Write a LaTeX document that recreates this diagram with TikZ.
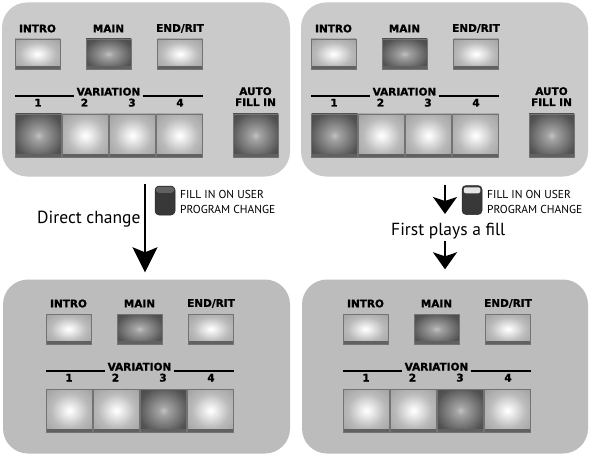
\documentclass[tikz,border=0pt]{standalone}
\usepackage{fontspec}
\setmainfont{PT Sans}
\newfontfamily\lblfont{DejaVu Sans}[BoldFeatures={FakeBold=1.2}]
\usetikzlibrary{arrows.meta}
\definecolor{paneltop}{HTML}{CACACA}
\definecolor{panelbot}{HTML}{BCBCBC}
\pgfdeclareradialshading{litglow}{\pgfpoint{0bp}{0bp}}{color(0bp)=(white); color(3bp)=(white!97!black); color(20bp)=(black!27); color(40bp)=(black!40); color(50bp)=(black!45)}
\pgfdeclareradialshading{darkglow}{\pgfpoint{0bp}{0bp}}{color(0bp)=(black!24); color(5bp)=(black!36); color(28bp)=(black!68); color(50bp)=(black!74)}
\tikzset{
  panel/.style={rounded corners=25pt, draw=none, minimum width=#1, minimum height=174pt, inner sep=0pt},
  lbl/.style={font=\lblfont\bfseries\fontsize{10.5}{12}\selectfont, inner sep=1pt},
  btnbase/.style={draw=black!55, line width=0.6pt, inner sep=0pt,
    path picture={\fill[black!62] (path picture bounding box.south west) rectangle ([yshift=3pt]path picture bounding box.south east);}},
  litb/.style={btnbase, shading=litglow},
  darkb/.style={btnbase, shading=darkglow},
  topbtn/.style={minimum width=45pt, minimum height=30pt},
  vbtn/.style={minimum width=46pt, minimum height=43pt},
  varline/.style={line width=2.4pt},
  arr/.style={line width=2pt},
  ind/.style={rounded corners=4pt, fill=black!78, draw=black!85, line width=0.5pt, minimum width=20pt, minimum height=29pt, inner sep=0pt},
  small/.style={font=\fontsize{11.5}{14}\selectfont, inner sep=0pt, anchor=base west},
  big/.style={font=\fontsize{17.5}{20}\selectfont, inner sep=0pt, anchor=base west},
}
\newcommand\pcontent[5]{%
\begin{scope}[shift={(#2,#3)}]
 \node[lbl] (#1ti) at (37.5,28.5) {INTRO};
 \node[lbl] (#1tm) at (108.5,28.5) {MAIN};
 \node[lbl] (#1te) at (180,28.5) {END/RIT};
 \node[litb,topbtn] (#1bi) at (37.5,54) {};
 \node[darkb,topbtn] (#1bm) at (108.5,54) {};
 \node[litb,topbtn] (#1be) at (180,54) {};
 \node[lbl,anchor=base] (#1var) at (108.5,95.5) {VARIATION};
 \coordinate (#1la) at (15,96);
 \coordinate (#1lb) at (203,96);
 \draw[varline] (#1la) -- ([xshift=-1pt]#1var.west|-#1la);
 \draw[varline] ([xshift=1pt]#1var.east|-#1lb) -- (#1lb);
 \node[lbl,anchor=base] (#1n1) at (38,106.5) {1};
 \node[lbl,anchor=base] (#1n2) at (84.5,106.5) {2};
 \node[lbl,anchor=base] (#1n3) at (132,106.5) {3};
 \node[lbl,anchor=base] (#1n4) at (180,106.5) {4};
 \node[#4,vbtn] (#1v1) at (38.5,135.5) {};
 \node[litb,vbtn] (#1v2) at (85.5,135.5) {};
 \node[#5,vbtn] (#1v3) at (132.5,135.5) {};
 \node[litb,vbtn] (#1v4) at (179.5,135.5) {};
\end{scope}}
\newcommand\autofill[3]{%
\begin{scope}[shift={(#2,#3)}]
 \node[lbl,anchor=base] (#1a1) at (255.5,95) {AUTO};
 \node[lbl,anchor=base] (#1a2) at (255.5,106) {FILL IN};
 \node[darkb,minimum width=45pt,minimum height=43pt] (#1ab) at (255.5,135.5) {};
\end{scope}}
\begin{document}
\begin{tikzpicture}[x=1pt,y=-1pt]
\useasboundingbox (0,0) rectangle (593,457);
% panels
\node[panel=288pt, fill=paneltop] (p1) at (146,89.5) {};
\node[panel=287pt, fill=paneltop] (p2) at (444.5,89.5) {};
\node[panel=287pt, fill=panelbot] (p3) at (146.5,366.5) {};
\node[panel=286pt, fill=panelbot] (p4) at (445,366.5) {};
% contents
\pcontent{A}{0}{0}{darkb}{litb}
\autofill{A}{0}{0}
\pcontent{B}{296}{0}{darkb}{litb}
\autofill{B}{296}{0}
\pcontent{C}{31}{275}{litb}{darkb}
\pcontent{D}{328}{275}{litb}{darkb}
% left transition
\coordinate (ax) at (145,0);
\draw[arr, -{Stealth[length=25pt,width=25pt,inset=5pt]}, shorten <=7pt, shorten >=7pt] (p1.south -| ax) -- (p3.north -| ax);
\node[ind] (ind1) at (165,200.5) {};
\fill[black!62, rounded corners=3pt] ([xshift=1pt,yshift=-1pt]ind1.north west) rectangle ([xshift=-1pt,yshift=-7pt]ind1.north east);
\node[small] (t1a) at (180,198) {FILL IN ON USER};
\node[small] (t1b) at (180,213) {PROGRAM CHANGE};
\node[big] (dc) at (37,223) {Direct change};
% right transition
\coordinate (bx) at (445,0);
\coordinate (b1) at (445,214);
\coordinate (b2) at (445,241);
\draw[arr, -{Stealth[length=17pt,width=24pt,inset=4pt]}, shorten <=8pt] (p2.south -| bx) -- (b1);
\draw[arr, -{Stealth[length=17pt,width=24pt,inset=4pt]}, shorten >=10pt] (b2) -- (p4.north -| bx);
\node[ind] (ind2) at (472,200) {};
\fill[white!90!black, rounded corners=2pt] ([xshift=2pt,yshift=-2pt]ind2.north west) rectangle ([xshift=-2pt,yshift=-8pt]ind2.north east);
\node[small] (t2a) at (487,198) {FILL IN ON USER};
\node[small] (t2b) at (487,213) {PROGRAM CHANGE};
\node[big] (fp) at (391,235) {First plays a fill};
\end{tikzpicture}
\end{document}
